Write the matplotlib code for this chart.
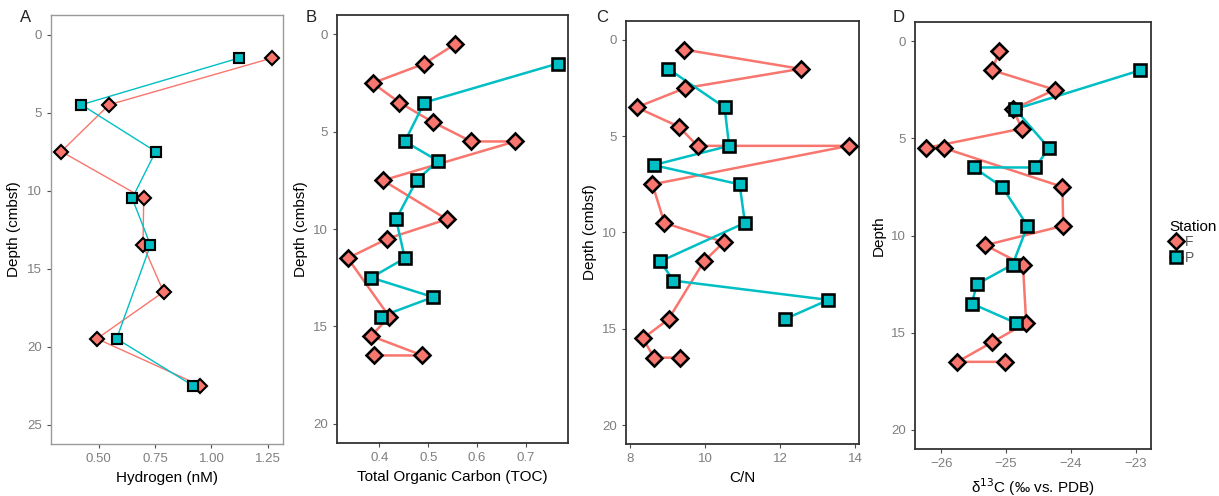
# coding: utf-8
import matplotlib
matplotlib.use('Agg')
import matplotlib.pyplot as plt
from matplotlib.lines import Line2D

plt.rcParams['font.family'] = ['Liberation Sans', 'DejaVu Sans']

# ---- data (depth in cmbsf) ----
# A: hydrogen
h2_depth_F = [1.5, 4.5, 7.5, 10.5, 13.5, 16.5, 19.5, 22.5]
h2_F = [1.27, 0.547, 0.335, 0.70, 0.697, 0.788, 0.493, 0.95]
h2_depth_P = [1.5, 4.5, 7.5, 10.5, 13.5, 19.5, 22.5]
h2_P = [1.124, 0.424, 0.753, 0.649, 0.730, 0.580, 0.917]

# B-C: TOC and C/N share depths
sed_depth_F = [0.5, 1.5, 2.5, 3.5, 4.5, 5.5, 5.5, 7.5, 9.5, 10.5, 11.5, 14.5, 15.5, 16.5, 16.5]
toc_F = [0.555, 0.492, 0.386, 0.441, 0.509, 0.588, 0.678, 0.407, 0.538, 0.416,
         0.335, 0.420, 0.383, 0.488, 0.389]
cn_F = [9.44, 12.54, 9.47, 8.18, 9.30, 9.80, 13.82, 8.60, 8.92, 10.50,
        9.97, 9.03, 8.35, 8.64, 9.33]
sed_depth_P = [1.5, 3.5, 5.5, 6.5, 7.5, 9.5, 11.5, 12.5, 13.5, 14.5]
toc_P = [0.765, 0.492, 0.452, 0.520, 0.476, 0.434, 0.452, 0.383, 0.510, 0.403]
cn_P = [9.02, 10.52, 10.64, 8.63, 10.92, 11.06, 8.81, 9.16, 13.28, 12.12]

# D: d13C
d13_depth_F = [0.5, 1.5, 2.5, 3.5, 4.5, 5.5, 5.5, 7.5, 9.5, 10.5, 11.5, 14.5, 15.5, 16.5, 16.5]
d13_F = [-25.11, -25.21, -24.25, -24.89, -24.76, -26.24, -25.96, -24.13, -24.12,
         -25.32, -24.74, -24.69, -25.22, -25.75, -25.02]
d13_depth_P = [1.5, 3.5, 5.5, 6.5, 6.5, 7.5, 9.5, 11.5, 12.5, 13.5, 14.5]
d13_P = [-22.93, -24.86, -24.34, -24.55, -25.50, -25.06, -24.67, -24.90, -25.45, -25.53, -24.85]

colF = '#F8766D'
colP = '#00BFC4'

W, H = 1219, 496
fig = plt.figure(figsize=(W / 100, H / 100), dpi=100)


def px_axes(left, right, top, bottom):
    return fig.add_axes([left / W, 1 - bottom / H, (right - left) / W, (bottom - top) / H])


def draw(ax, dF, xF, dP, xP, lw, ms, ylim, yticks):
    ax.plot(xF, dF, '-', color=colF, lw=lw, zorder=2)
    ax.plot(xP, dP, '-', color=colP, lw=lw, zorder=2)
    ax.plot(xF, dF, 'D', ms=ms, mfc=colF, mec='black', mew=ms * 0.22, ls='none', zorder=3)
    ax.plot(xP, dP, 's', ms=ms * 0.95, mfc=colP, mec='black', mew=ms * 0.22, ls='none', zorder=3)
    ax.set_ylim(ylim[1], ylim[0])
    ax.set_yticks(yticks)
    ax.margins(x=0.05)
    ax.tick_params(labelsize=9.5, colors='#4d4d4d', labelcolor='#7f7f7f', length=3, width=0.8)
    for s in ax.spines.values():
        s.set_color('#333333')
        s.set_linewidth(1.3)


#------------------
axA = px_axes(50.7, 283, 15, 444)
draw(axA, h2_depth_F, h2_F, h2_depth_P, h2_P, 1.0, 7, (-1.25, 26.25), [0, 5, 10, 15, 20, 25])
axA.set_xticks([0.5, 0.75, 1.0, 1.25])
axA.set_xticklabels(['0.50', '0.75', '1.00', '1.25'])
axA.set_xlabel('Hydrogen (nM)', fontsize=11, labelpad=4)
axA.set_ylabel('Depth (cmbsf)', fontsize=11)
for s in axA.spines.values():
    s.set_color('#9a9a9a')
    s.set_linewidth(1.0)

axB = px_axes(337.3, 568, 15, 443)
draw(axB, sed_depth_F, toc_F, sed_depth_P, toc_P, 1.8, 8.5, (-1, 21), [0, 5, 10, 15, 20])
axB.set_xticks([0.4, 0.5, 0.6, 0.7])
axB.set_xlabel('Total Organic Carbon (TOC)', fontsize=11, labelpad=4)
axB.set_ylabel('Depth (cmbsf)', fontsize=11)

axC = px_axes(626, 859.3, 20.7, 444.3)
draw(axC, sed_depth_F, cn_F, sed_depth_P, cn_P, 1.8, 8.5, (-1, 21), [0, 5, 10, 15, 20])
axC.set_xticks([8, 10, 12, 14])
axC.set_xlabel('C/N', fontsize=11, labelpad=4)
axC.set_ylabel('Depth (cmbsf)', fontsize=11)

axD = px_axes(915, 1151, 21.7, 449.3)
draw(axD, d13_depth_F, d13_F, d13_depth_P, d13_P, 1.8, 8.5, (-1, 21), [0, 5, 10, 15, 20])
axD.set_xticks([-26, -25, -24, -23])
axD.set_xticklabels(['\u221226', '\u221225', '\u221224', '\u221223'])
axD.set_xlabel('\u03b4$^{13}$C (\u2030 vs. PDB)', fontsize=11, labelpad=4)
axD.set_ylabel('Depth', fontsize=11)

#------------------
for lab, x, y in [('A', 20, 18), ('B', 306, 18), ('C', 596, 18), ('D', 893, 18)]:
    fig.text(x / W, 1 - y / H, lab, fontsize=12, ha='left', va='center', color='#222222')

handles = [Line2D([], [], color=colF, lw=1.8, marker='D', ms=8, mfc=colF, mec='black', mew=1.8),
           Line2D([], [], color=colP, lw=1.8, marker='s', ms=8, mfc=colP, mec='black', mew=1.8)]
leg = fig.legend(handles, ['F', 'P'], title='Station', loc='upper left',
                 bbox_to_anchor=(1160 / W, 1 - 210 / H), frameon=False,
                 fontsize=10, title_fontsize=11, handlelength=0.9, handletextpad=0.2,
                 labelspacing=0.1, borderpad=0.2)
leg._legend_box.align = 'left'
for t in leg.get_texts():
    t.set_color('#555555')

plt.savefig('out.png', dpi=100)
